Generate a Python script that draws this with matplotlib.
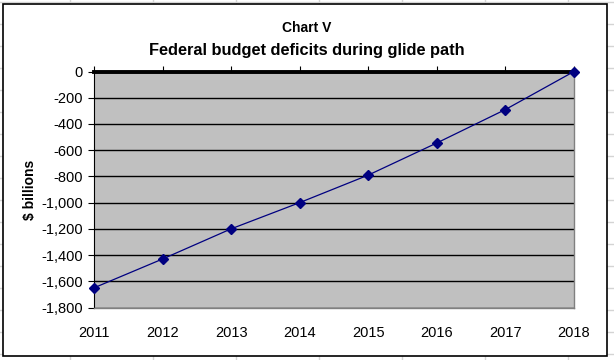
"""Chart V - deficits federais durante a glide path (recriação do gráfico Excel)."""
import matplotlib
matplotlib.use("Agg")
import matplotlib.pyplot as plt
from matplotlib.lines import Line2D
from matplotlib.patches import Rectangle

anos = [2011, 2012, 2013, 2014, 2015, 2016, 2017, 2018]
deficits = [-1650, -1430, -1200, -1000, -790, -545, -290, 0]
y_ticks = list(range(-1800, 1, 200))

W, H = 614, 360
plt.rcParams["font.family"] = ["Liberation Sans", "DejaVu Sans"]

fig = plt.figure(figsize=(W / 100, H / 100), dpi=100)
fig.patch.set_facecolor("white")

# grade da planilha por trás do gráfico
cinza_planilha = "#d4d4d4"
for x in range(70, W, 83):
    fig.add_artist(Line2D([x / W, x / W], [0, 1], color=cinza_planilha, lw=1, zorder=0))
for y in range(2, H, 22):
    fig.add_artist(Line2D([0, 1], [1 - y / H, 1 - y / H], color=cinza_planilha, lw=1, zorder=0))

# área do gráfico (branca, borda preta)
x0, y0, x1, y1 = 3, 4, 607, 356
fig.add_artist(Rectangle((x0 / W, 1 - y1 / H), (x1 - x0) / W, (y1 - y0) / H,
                         transform=fig.transFigure, facecolor="white",
                         edgecolor="black", lw=1.2, zorder=1))

# área de plotagem (pixels medidos na referência)
pl, pr, pt, pb = 94, 574, 71.5, 307.5
ax = fig.add_axes([pl / W, 1 - pb / H, (pr - pl) / W, (pb - pt) / H], zorder=2)
ax.set_facecolor("#c0c0c0")
ax.plot(anos, deficits, color="#000080", lw=0.9, marker="D", ms=5.5,
        markerfacecolor="#000080", markeredgecolor="#000080", zorder=3, clip_on=False)

ax.set_xlim(anos[0], anos[-1])
ax.set_ylim(-1800, 0)
ax.set_yticks(y_ticks)
ax.set_yticklabels([f"{v:,}" for v in y_ticks], fontsize=10.5)
ax.set_xticks(anos)
ax.set_xticklabels([str(a) for a in anos], fontsize=10.5)
ax.tick_params(axis="x", bottom=False, top=True, labelbottom=True, labeltop=False,
               direction="out", length=4, color="black", pad=9)
ax.tick_params(axis="y", direction="out", length=4, color="black", pad=4)
ax.grid(axis="y", color="black", lw=1)
ax.set_axisbelow(True)

ax.spines["top"].set_linewidth(2.8)
ax.spines["top"].set_color("black")
ax.spines["left"].set_color("black")
for lado in ("right", "bottom"):
    ax.spines[lado].set_color("#808080")
    ax.spines[lado].set_linewidth(1)

ax.set_ylabel("$ billions", fontsize=10, fontweight="bold")
ax.yaxis.set_label_coords((36.5 - pl) / (pr - pl), 0.5)

fig.text(0.5, 1 - 28 / H, "Chart V", ha="center", va="center",
         fontsize=10, fontweight="bold")
fig.text(0.5, 1 - 51 / H, "Federal budget deficits during glide path",
         ha="center", va="center", fontsize=11.8, fontweight="bold")

fig.savefig("out.png", dpi=100)
